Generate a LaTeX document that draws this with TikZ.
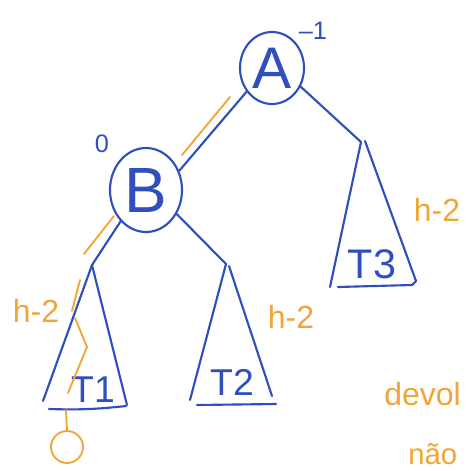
\documentclass[tikz,border=0pt]{standalone}
\usetikzlibrary{shapes.geometric}
\usepackage{fontspec}
\setmainfont{Liberation Sans}
\definecolor{pen}{RGB}{48,78,188}
\definecolor{hl}{RGB}{240,165,55}
\begin{document}
\begin{tikzpicture}[x=0.75pt,y=-0.75pt,
  edge/.style={draw=pen,line width=1.6pt,line cap=round,line join=round},
  hlline/.style={draw=hl,line width=1.4pt,line cap=round,line join=round},
  vert/.style={ellipse,draw=pen,line width=1.6pt,inner sep=0pt,text=pen},
  subt/.style={text=pen,inner sep=0pt,font=\fontsize{28}{28}\selectfont},
  hlab/.style={text=hl,inner sep=0pt,font=\fontsize{24}{24}\selectfont},
  bal/.style={text=pen,inner sep=0pt}]
\useasboundingbox (0,0) rectangle (465,471);

% vertices
\node[vert,minimum width=48pt,minimum height=54pt,font=\fontsize{44}{44}\selectfont] (A) at (272,68) {A};
\node[vert,minimum width=54pt,minimum height=63pt,font=\fontsize{48}{48}\selectfont] (B) at (146,190) {B};
\node[bal,font=\fontsize{19}{19}\selectfont] (balA) at (313,31) {–1};
\node[bal,font=\fontsize{19}{19}\selectfont] (balB) at (102,144) {0};

% subtree apexes and corners
\coordinate (t1) at (92,265);  \coordinate (t1l) at (43,401); \coordinate (t1r) at (127,405);
\coordinate (t1b1) at (49,409); \coordinate (t1b2) at (126,406);
\coordinate (t2) at (226,264); \coordinate (t2a) at (229,266);
\coordinate (t2l) at (190,400); \coordinate (t2r) at (272,396);
\coordinate (t2b1) at (197,405); \coordinate (t2b2) at (276,404);
\coordinate (t3) at (361,142); \coordinate (t3a) at (365,141);
\coordinate (t3l) at (330,287); \coordinate (t3r) at (416,281);
\coordinate (t3b1) at (338,287); \coordinate (t3b2) at (412,285);

% edges
\draw[edge] (A.223) -- (B.30);
\draw[edge] (A.-33) -- (t3);
\draw[edge] (B.231) -- (t1);
\draw[edge] (B.-38) -- (t2);

% subtrees
\draw[edge] (t1l) -- (t1) -- (t1r);
\draw[edge] (t1b1) to[bend right=4] (t1b2);
\draw[edge] (t2l) -- (t2);
\draw[edge] (t2a) -- (t2r);
\draw[edge] (t2b1) -- (t2b2);
\draw[edge] (t3l) -- (t3);
\draw[edge] (t3a) -- (t3r) -- ++(-4,4);
\draw[edge] (t3b1) -- (t3b2);

\node[subt] (T1) at (93,390) {T1};
\node[subt] (T2) at (232,382) {T2};
\node[subt,font=\fontsize{31}{31}\selectfont] (T3) at (372,264) {T3};

% height labels
\node[hlab] (h1) at (36,311) {h-2};
\node[hlab] (h2) at (291,317) {h-2};
\node[hlab] (h3) at (437,210) {h-2};

% orange height path
\coordinate (oa1) at (230,97); \coordinate (oa2) at (182,155);
\draw[hlline] (oa1) -- (oa2);
\coordinate (ob1) at (114,216); \coordinate (ob2) at (84,254);
\draw[hlline] (ob1) -- (ob2);
\coordinate (oc1) at (80,280); \coordinate (oc2) at (72,311);
\draw[hlline] (oc1) -- (oc2);
\node[circle,draw=hl,line width=1.4pt,minimum size=24pt,inner sep=0pt] (new) at (67,447) {};
\coordinate (od1) at (75,318); \coordinate (od2) at (87,347); \coordinate (od3) at (68,393);
\draw[hlline] (od1) -- (od2) -- (od3);
\coordinate (oe1) at (66,410);
\draw[hlline] (oe1) -- (new.north);

% note
\node[text=hl,anchor=base west,inner sep=0pt,font=\fontsize{24}{24}\selectfont] (n1) at (384,405) {devol};
\node[text=hl,anchor=base west,inner sep=0pt,font=\fontsize{22}{22}\selectfont] (n2) at (408,464) {não};
\end{tikzpicture}
\end{document}
